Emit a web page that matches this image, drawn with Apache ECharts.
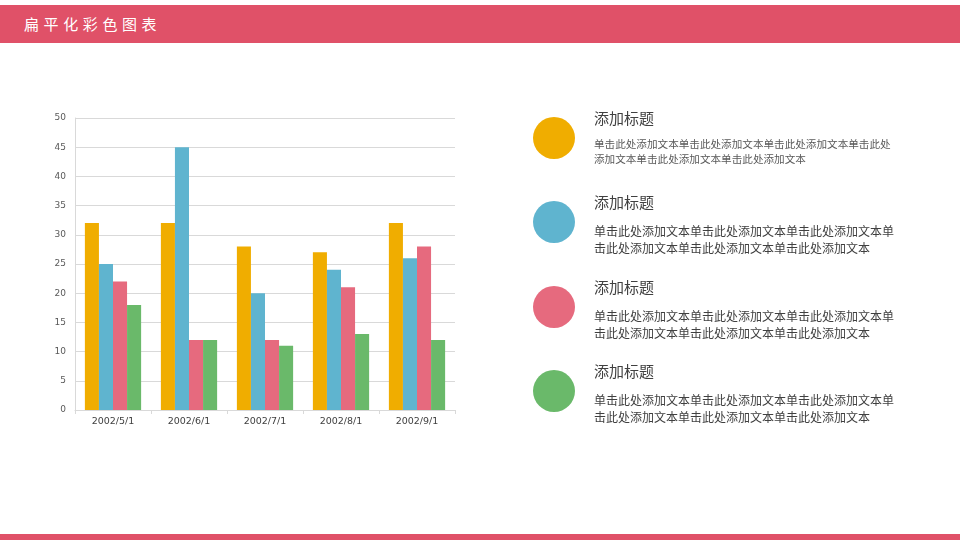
<!DOCTYPE html>
<html lang="zh-CN">
<head>
    <meta charset="UTF-8">
    <title>扁平化彩色图表</title>
    <script src="https://cdn.jsdelivr.net/npm/echarts@6/dist/echarts.min.js"></script>
    <style>
        body { margin: 0; width: 960px; height: 540px; position: relative; overflow: hidden; background: #fff;
               font-family: "Noto Sans CJK SC", "Noto Sans", sans-serif; }
        .header { position: absolute; left: 0; top: 5px; width: 960px; height: 38px; background: #e05168; }
        .header span { position: absolute; left: 24px; top: 0; line-height: 38px; color: #fff; font-size: 15px; letter-spacing: 4.6px; }
        .footer { position: absolute; left: 0; top: 534px; width: 960px; height: 6px; background: #e05168; }
        #chart { position: absolute; left: 0; top: 0; width: 960px; height: 540px; }
        .item { position: absolute; left: 533px; width: 400px; }
        .dot { position: absolute; left: 0; width: 42px; height: 42px; border-radius: 50%; }
        .ttl { position: absolute; left: 61px; font-size: 15px; line-height: 20px; color: #404040; white-space: nowrap; }
        .txt { position: absolute; left: 61px; font-size: 12px; line-height: 17px; color: #404040; white-space: nowrap; }
        .txt.small { font-size: 10.6px; line-height: 15px; color: #595959; }
    </style>
</head>
<body>
    <div class="header"><span>扁平化彩色图表</span></div>
    <div class="footer"></div>
    <div id="chart"></div>
    <div id="panel"></div>

    <script>
        var categories = ['2002/5/1', '2002/6/1', '2002/7/1', '2002/8/1', '2002/9/1'];
        var series1 = [32, 32, 28, 27, 32];
        var series2 = [25, 45, 20, 24, 26];
        var series3 = [22, 12, 12, 21, 28];
        var series4 = [18, 12, 11, 13, 12];
        var colors = ['#f0ad00', '#5fb4cf', '#e66a7e', '#6ab96a'];

        var itemTitle = '添加标题';
        var itemLines = [
            ['单击此处添加文本单击此处添加文本单击此处添加文本单击此处', '添加文本单击此处添加文本单击此处添加文本'],
            ['单击此处添加文本单击此处添加文本单击此处添加文本单', '击此处添加文本单击此处添加文本单击此处添加文本'],
            ['单击此处添加文本单击此处添加文本单击此处添加文本单', '击此处添加文本单击此处添加文本单击此处添加文本'],
            ['单击此处添加文本单击此处添加文本单击此处添加文本单', '击此处添加文本单击此处添加文本单击此处添加文本']
        ];

        // right side text blocks
        var panel = document.getElementById('panel');
        var tops = [117, 201, 286, 370];
        for (var i = 0; i < 4; i++) {
            var div = document.createElement('div');
            div.className = 'item';
            div.style.top = tops[i] + 'px';
            var small = i === 0;
            div.innerHTML =
                '<div class="dot" style="top:0px;background:' + colors[i] + '"></div>' +
                '<div class="ttl" style="top:-9px">' + itemTitle + '</div>' +
                '<div class="txt' + (small ? ' small' : '') + '" style="top:' + (small ? 19 : 21) + 'px">' +
                itemLines[i].join('<br>') + '</div>';
            panel.appendChild(div);
        }

        var list = [series1, series2, series3, series4];
        var chartsdata = [];
        for (var k = 0; k < list.length; k++) {
            chartsdata.push({
                type: 'bar',
                data: list[k],
                barGap: '0%',
                barCategoryGap: '26%',
                itemStyle: { color: colors[k] },
                silent: true
            });
        }

        var myChart = echarts.init(document.getElementById('chart'));
        myChart.setOption({
            animation: false,
            grid: { left: 75, top: 118, width: 380, height: 292, containLabel: false },
            xAxis: {
                type: 'category',
                data: categories,
                axisLine: { lineStyle: { color: '#d9d9d9' } },
                axisTick: { show: true, length: 4, lineStyle: { color: '#d9d9d9' } },
                axisLabel: { color: '#404040', fontSize: 9.5, margin: 7, fontFamily: 'DejaVu Sans' }
            },
            yAxis: {
                type: 'value',
                min: 0,
                max: 50,
                interval: 5,
                axisLine: { show: true, lineStyle: { color: '#d9d9d9' } },
                axisTick: { show: false },
                splitLine: { lineStyle: { color: '#d9d9d9' } },
                axisLabel: { color: '#595959', fontSize: 9, margin: 9, fontFamily: 'DejaVu Sans' }
            },
            series: chartsdata
        });
    </script>
</body>
</html>
